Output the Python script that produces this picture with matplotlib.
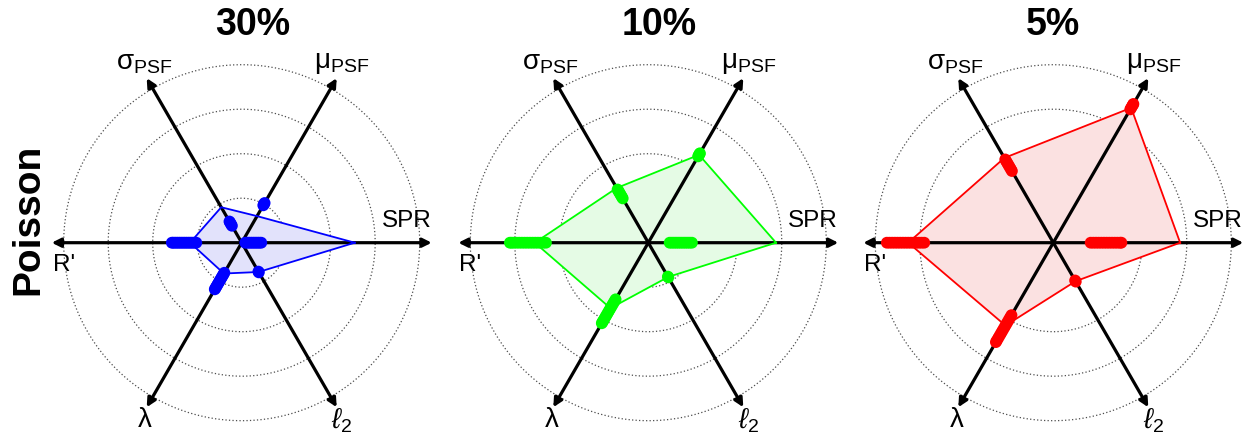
"""Radar plots of parameter recovery for Poisson noise at three levels."""
import numpy as np
import matplotlib
matplotlib.use("Agg")
import matplotlib.pyplot as plt

plt.rcParams['font.family'] = ['Liberation Sans', 'DejaVu Sans']
plt.rcParams['mathtext.fontset'] = 'custom'
plt.rcParams['mathtext.rm'] = 'Liberation Sans'
plt.rcParams['mathtext.it'] = 'Liberation Sans:italic'
plt.rcParams['mathtext.bf'] = 'Liberation Sans:bold'

# axis order goes counter-clockwise from the right
axis_labels = ['SPR', 'μ$_{\\mathrm{PSF}}$', 'σ$_{\\mathrm{PSF}}$', "R'", 'λ', '$\\ell_{\\mathrm{2}}$']
noise_levels = ['30%', '10%', '5%']
row_label = 'Poisson'
colors = ['#0000ff', '#00ff00', '#ff0000']
fills = ['#e2e2fb', '#e5fbe5', '#fbe1e1']

# polygon (summary) values per axis
poly_30 = [2.54, 0.69, 0.92, 1.16, 0.80, 0.76]
poly_10 = [2.87, 2.28, 1.42, 2.55, 1.70, 0.89]
poly_5 = [2.85, 3.50, 2.20, 3.26, 2.15, 1.00]

# individual runs along each axis
dots_30 = [
    [0.08, 0.12, 0.16, 0.20, 0.24, 0.28, 0.32, 0.36, 0.40, 0.44],
    [0.97, 1.00, 1.03],
    [0.44, 0.48, 0.52, 0.55],
    [1.02, 1.06, 1.10, 1.14, 1.18, 1.22, 1.26, 1.30, 1.34, 1.38, 1.42, 1.46, 1.50, 1.54, 1.57],
    [0.78, 0.82, 0.86, 0.90, 0.94, 0.98, 1.02, 1.06, 1.10, 1.14, 1.18, 1.21],
    [0.75, 0.77],
]
dots_10 = [
    [0.48, 0.53, 0.58, 0.63, 0.68, 0.73, 0.78, 0.83, 0.88, 0.93, 0.98],
    [2.24, 2.27, 2.30, 2.32],
    [1.15, 1.19, 1.23, 1.27, 1.31, 1.35, 1.38],
    [2.30, 2.36, 2.42, 2.48, 2.54, 2.60, 2.66, 2.72, 2.78, 2.84, 2.90, 2.96, 3.02, 3.07, 3.11],
    [1.47, 1.52, 1.57, 1.62, 1.67, 1.72, 1.77, 1.82, 1.87, 1.92, 1.97, 2.02, 2.06, 2.09],
    [0.88, 0.90],
]
dots_5 = [
    [0.84, 0.90, 0.96, 1.02, 1.08, 1.14, 1.20, 1.26, 1.32, 1.38, 1.44, 1.50, 1.53],
    [3.46, 3.50, 3.54, 3.58, 3.60],
    [1.86, 1.91, 1.96, 2.01, 2.06, 2.11, 2.16],
    [2.90, 2.96, 3.02, 3.08, 3.14, 3.20, 3.26, 3.32, 3.38, 3.44, 3.50, 3.56, 3.62, 3.68, 3.74],
    [1.88, 1.94, 2.00, 2.06, 2.12, 2.18, 2.24, 2.30, 2.36, 2.42, 2.48, 2.54, 2.58],
    [0.98, 1.01],
]
polys = [poly_30, poly_10, poly_5]
dots = [dots_30, dots_10, dots_5]

rings = [1, 2, 3, 4]
axis_len = 4.27
# where each axis label sits, in data units
label_pos = [(3.70, 0.49), (2.25, 4.04), (-2.2, 4.04), (-4.0, -0.5), (-2.18, -3.98), (2.25, -4.0)]

W, H = 1252, 440
fig = plt.figure(figsize=(W / 100, H / 100), dpi=100)

centers_x = [241.7, 648.3, 1053.3]
title_x = [252.5, 659, 1053]
center_y = H - 242.7
half = 195
lim = half / 44.5

n = len(axis_labels)
angles = np.deg2rad(np.arange(n) * 360 / n)
t = np.linspace(0, 2 * np.pi, 400)

for k in range(3):
    ax = fig.add_axes([(centers_x[k] - half) / W, (center_y - half) / H, 2 * half / W, 2 * half / H])
    ax.set_xlim(-lim, lim)
    ax.set_ylim(-lim, lim)
    ax.set_aspect('equal')
    ax.axis('off')

    for r in rings:
        ax.plot(r * np.cos(t), r * np.sin(t), ls=(0, (1, 1.8)), color='0.3', lw=0.9, zorder=1)

    vals = np.array(polys[k])
    px = vals * np.cos(angles)
    py = vals * np.sin(angles)
    ax.fill(px, py, color=fills[k], lw=0, zorder=2)

    for a in angles[:3]:
        ax.annotate('', xy=(axis_len * np.cos(a), axis_len * np.sin(a)),
                    xytext=(-axis_len * np.cos(a), -axis_len * np.sin(a)),
                    arrowprops=dict(arrowstyle='<|-|>', lw=2.3, color='k',
                                    mutation_scale=13, shrinkA=0, shrinkB=0),
                    zorder=3)

    ax.plot(np.append(px, px[0]), np.append(py, py[0]), color=colors[k], lw=1.3, zorder=4)

    for a, run in zip(angles, dots[k]):
        run = np.array(run)
        ax.scatter(run * np.cos(a), run * np.sin(a), s=72, color=colors[k],
                   edgecolor='none', zorder=5)

    for lab, (lx, ly) in zip(axis_labels, label_pos):
        fs = 17.5 if lab in ('SPR', "R'") else 20
        ax.text(lx, ly, lab, fontsize=fs, ha='center', va='center', clip_on=False)

    fig.text(title_x[k] / W, 1 - 25 / H, noise_levels[k], fontsize=27,
             fontweight='bold', ha='center', va='center')

fig.text(28.5 / W, 1 - 219 / H, row_label, rotation=90, fontsize=28,
         fontweight='bold', ha='center', va='center')

fig.savefig('out.png', dpi=100)
